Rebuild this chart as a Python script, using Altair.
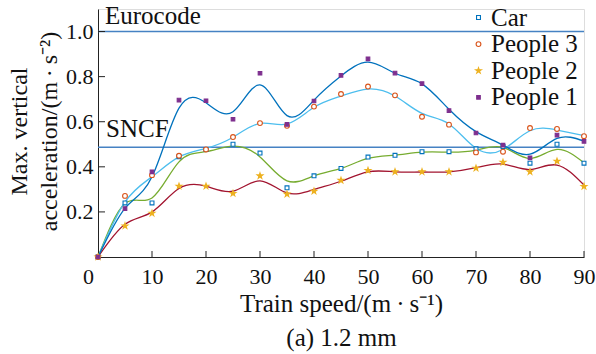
import altair as alt
import pandas as pd

# ---------------- data ----------------
series_names = ["Car", "People 3", "People 2", "People 1"]
fit_names = ["Car fit", "People 3 fit", "People 2 fit", "People 1 fit"]
speeds = [0, 5, 10, 15, 20, 25, 30, 35, 40, 45, 50, 55, 60, 65, 70, 75, 80, 85, 90]

car = [0, 0.24, 0.24, 0.445, 0.477, 0.50, 0.461, 0.307, 0.36, 0.393, 0.443, 0.451,
       0.467, 0.467, 0.48, 0.49, 0.416, 0.50, 0.416]
people3 = [0, 0.271, 0.363, 0.449, 0.477, 0.532, 0.594, 0.582, 0.667, 0.723, 0.756,
           0.717, 0.622, 0.587, 0.464, 0.467, 0.572, 0.568, 0.536]
people2 = [0, 0.138, 0.194, 0.314, 0.314, 0.282, 0.36, 0.279, 0.292, 0.34, 0.384,
           0.378, 0.378, 0.378, 0.394, 0.42, 0.378, 0.425, 0.313]
people1 = [0, 0.215, 0.378, 0.696, 0.693, 0.611, 0.815, 0.588, 0.692, 0.806, 0.879,
           0.816, 0.769, 0.649, 0.55, 0.496, 0.44, 0.541, 0.513]

# fitted curves
fit_car = [0, 0.237, 0.262, 0.422, 0.467, 0.492, 0.444, 0.338, 0.36, 0.393, 0.437,
           0.452, 0.465, 0.465, 0.474, 0.486, 0.437, 0.477, 0.418]
fit_people3 = [0, 0.244, 0.356, 0.444, 0.482, 0.531, 0.593, 0.59, 0.664, 0.714, 0.745,
               0.714, 0.637, 0.59, 0.482, 0.477, 0.56, 0.563, 0.538]
fit_people2 = [0, 0.145, 0.2, 0.304, 0.314, 0.292, 0.338, 0.284, 0.3, 0.336, 0.378,
               0.378, 0.377, 0.378, 0.396, 0.412, 0.388, 0.408, 0.319]
fit_people1 = [0, 0.216, 0.356, 0.66, 0.684, 0.644, 0.763, 0.627, 0.696, 0.803, 0.864,
               0.815, 0.768, 0.655, 0.556, 0.496, 0.456, 0.526, 0.514]

ref_names = ["Eurocode", "SNCF"]
ref_values = [1.0, 0.487]

x_ticks = [0, 10, 20, 30, 40, 50, 60, 70, 80, 90]
y_ticks = [0.2, 0.4, 0.6, 0.8, 1.0]

# ---------------- tables ----------------
pts = pd.DataFrame(
    [(s, v, name) for name, vals in zip(series_names, [car, people3, people2, people1])
     for s, v in zip(speeds, vals)],
    columns=["speed", "value", "series"],
)
fits = pd.DataFrame(
    [(s, v, name) for name, vals in zip(fit_names, [fit_car, fit_people3, fit_people2, fit_people1])
     for s, v in zip(speeds, vals)],
    columns=["speed", "fit", "curve"],
)
refs = pd.DataFrame({"name": ref_names, "value": ref_values})
xt = pd.DataFrame({"speed": x_ticks[1:]})
yt = pd.DataFrame({"value": y_ticks})

FONT = "Liberation Serif"
marker_colors = ["#0072BD", "#D95319", "#EDB120", "#7E2F8E"]
marker_fills = ["#ffffff", "#ffffff", "#EDB120", "#7E2F8E"]
fit_colors = ["#77AC30", "#4DBEEE", "#A2142F", "#0072BD"]
star = ("M0,-1L0.2245,-0.309L0.951,-0.309L0.363,0.118L0.588,0.809L0,0.382"
        "L-0.588,0.809L-0.363,0.118L-0.951,-0.309L-0.2245,-0.309Z")
shapes = [
    "M-0.65,-0.65H0.65V0.65H-0.65Z",
    "M0.8,0A0.8,0.8 0 1,1 -0.8,0A0.8,0.8 0 1,1 0.8,0Z",
    star,
    "M-0.6,-0.6H0.6V0.6H-0.6Z",
]

xscale = alt.Scale(domain=[0, 90], nice=False, zero=False)
yscale = alt.Scale(domain=[0, 1.1], nice=False, zero=False)

x_axis = alt.Axis(
    values=x_ticks, format="d", title=["Train speed/(m\u2009·\u2009s⁻¹)", "(a) 1.2 mm"],
    labelFont=FONT, labelFontSize=22, labelColor="#111", labelBaseline="alphabetic",
    labelPadding=26, labelOffset=alt.expr("datum.value == 0 ? -10 : 0"),
    ticks=False, grid=False, domainColor="#222", domainWidth=1,
    titleFont=FONT, titleFontSize=25, titleFontWeight="normal", titleColor="#111",
    titleBaseline="alphabetic", titleX=243, titleY=54, titleAlign="center",
    titleLineHeight=34, labelFlush=False, labelOverlap=False,
)
y_axis = alt.Axis(
    values=y_ticks, format=".1f", title=["Max. vertical", "acceleration/(m\u2009·\u2009s⁻²)"],
    labelFont=FONT, labelFontSize=22, labelColor="#111", labelPadding=5,
    ticks=False, grid=False, domainColor="#222", domainWidth=1,
    titleFont=FONT, titleFontSize=24, titleFontWeight="normal", titleColor="#111",
    titleAngle=270, titleBaseline="alphabetic", titleAlign="center",
    titleX=-72, titleY=122, titleLineHeight=30, labelFlush=False, labelOverlap=False,
)

X = alt.X("speed:Q", scale=xscale, axis=x_axis)
Y = alt.Y("value:Q", scale=yscale, axis=y_axis)

leg = alt.Legend(
    title=None, orient="none", legendX=368, legendY=-4, padding=0,
    labelFont=alt.expr("'Liberation Serif'"), labelFontSize=25, labelColor="#111",
    labelOffset=0, symbolSize=36, symbolStrokeWidth=1.1, rowPadding=0.6,
)

points = alt.Chart(pts).mark_point(opacity=1, strokeWidth=1.1, size=36).encode(
    x=X, y=Y,
    stroke=alt.Stroke("series:N", scale=alt.Scale(domain=series_names, range=marker_colors), legend=leg),
    fill=alt.Fill("series:N", scale=alt.Scale(domain=series_names, range=marker_fills), legend=leg),
    shape=alt.Shape("series:N", scale=alt.Scale(domain=series_names, range=shapes), legend=leg),
)

ref_rules = alt.Chart(refs).mark_rule(color="#4682C3", strokeWidth=1.5).encode(y=Y)

curves = alt.Chart(fits).mark_line(interpolate="natural", strokeWidth=1.3).encode(
    x=X, y=alt.Y("fit:Q", scale=yscale, axis=y_axis),
    color=alt.Color("curve:N", scale=alt.Scale(domain=fit_names, range=fit_colors), legend=None),
)

txt_euro = alt.Chart(refs).transform_filter(alt.datum.name == "Eurocode").mark_text(
    font=FONT, fontSize=25, align="left", baseline="alphabetic", dy=-8, color="#111"
).encode(x=alt.value(7), y=Y, text="name:N")

txt_sncf = alt.Chart(refs).transform_filter(alt.datum.name == "SNCF").mark_text(
    font=FONT, fontSize=25, align="left", baseline="alphabetic", dy=-10, color="#111"
).encode(x=alt.value(8), y=Y, text="name:N")

xtick_marks = alt.Chart(xt).mark_rule(color="#222", strokeWidth=1).encode(
    x=X, y=alt.value(248), y2=alt.value(242)
)
ytick_marks = alt.Chart(yt).mark_rule(color="#222", strokeWidth=1).encode(
    y=Y, x=alt.value(0), x2=alt.value(7)
)

chart = alt.layer(
    ref_rules, curves, points, txt_euro, txt_sncf, xtick_marks, ytick_marks
).properties(
    width=486, height=248,
    padding={"left": 98, "top": 9, "right": 12, "bottom": 97},
    autosize=alt.AutoSizeParams(type="none"),
).configure_view(stroke=None).configure_legend(
    labelFont=FONT, labelFontSize=25, labelColor="#111"
).configure(background="white", font=FONT)

chart.save("out.html", embed_options={"renderer": "svg", "actions": False})
